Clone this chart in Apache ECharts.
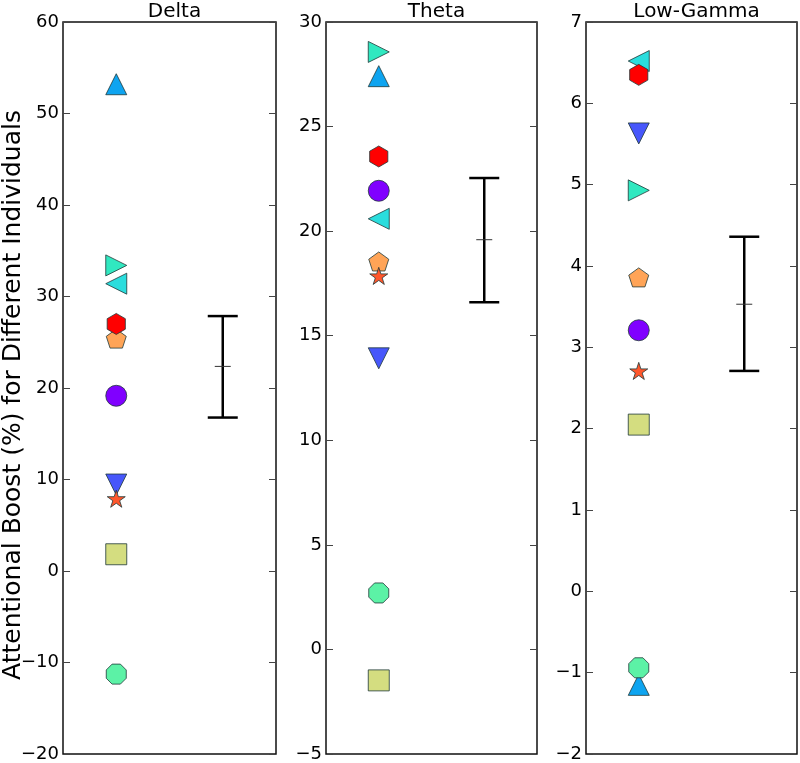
<!DOCTYPE html>
<html>
<head>
<meta charset="utf-8">
<script src="https://cdn.jsdelivr.net/npm/echarts@6/dist/echarts.min.js"></script>
<style>
  html, body { margin: 0; padding: 0; background: #fff; }
  #chart { width: 800px; height: 763px; }
</style>
</head>
<body>
<div id="chart"></div>
<script>
// ---- data ----
const panelTitles = ['Delta', 'Theta', 'Low-Gamma'];
const yLabel = 'Attentional Boost (%) for Different Individuals';
// subjects in drawing order: circle, down-tri, up-tri, left-tri, right-tri, octagon, square, pentagon, star, hexagon
const deltaValues = [19.15, 9.45, 53.2, 31.4, 33.4, -11.27, 1.83, 25.4, 7.9, 27.0];
const thetaValues = [21.93, 13.92, 27.41, 20.59, 28.57, 2.70, -1.48, 18.55, 17.86, 23.57];
const gammaValues = [3.21, 5.63, -1.15, 6.52, 4.93, -0.94, 2.05, 3.86, 2.71, 6.35];
const errMid = [22.36, 19.59, 3.53];
const errLow = [16.77, 16.6, 2.71];
const errHigh = [27.86, 22.54, 4.36];
const yMin = [-20, -5, -2];
const yMax = [60, 30, 7];
const yStep = [10, 5, 1];

// ---- styling ----
const colors = ['#8000ff', '#4757fb', '#0ea4f0', '#2adddd', '#30e8c0', '#5cf2a6', '#d4dd80', '#ffa457', '#ff572c', '#ff0000'];
const PENT = 'path://M0,-1 L-0.951,-0.309 L-0.588,0.809 L0.588,0.809 L0.951,-0.309 Z';
const HEX = 'path://M0,-1 L-0.866,-0.5 L-0.866,0.5 L0,1 L0.866,0.5 L0.866,-0.5 Z';
const OCT = 'path://M0.924,0.383 L0.383,0.924 L-0.383,0.924 L-0.924,0.383 L-0.924,-0.383 L-0.383,-0.924 L0.383,-0.924 L0.924,-0.383 Z';
const STAR = 'path://M0,-1 L0.2245,-0.309 L0.951,-0.309 L0.363,0.118 L0.588,0.809 L0,0.382 L-0.588,0.809 L-0.363,0.118 L-0.951,-0.309 L-0.2245,-0.309 Z';
const markers = [
  { symbol: 'circle', rotate: 0, size: 21 },
  { symbol: 'triangle', rotate: 180, size: 21 },
  { symbol: 'triangle', rotate: 0, size: 21 },
  { symbol: 'triangle', rotate: 90, size: 21 },
  { symbol: 'triangle', rotate: -90, size: 21 },
  { symbol: OCT, rotate: 0, size: 20 },
  { symbol: 'rect', rotate: 0, size: 21 },
  { symbol: PENT, rotate: 0, size: 20 },
  { symbol: STAR, rotate: 0, size: 18 },
  { symbol: HEX, rotate: 0, size: 21 }
];
const panelValues = [deltaValues, thetaValues, gammaValues];
const grids = [
  { left: 63, width: 213 },
  { left: 326, width: 211 },
  { left: 586, width: 211 }
];
const gridTop = 22, gridHeight = 736;
const FONT = 'DejaVu Sans';
const fmt = v => (v < 0 ? '\u2212' + Math.abs(v) : String(v));

const option = {
  animation: false,
  backgroundColor: '#fff',
  textStyle: { fontFamily: FONT },
  title: panelTitles.map((t, i) => ({
    text: t,
    left: grids[i].left + grids[i].width / 2,
    textAlign: 'center',
    top: -3,
    textStyle: { fontFamily: FONT, fontSize: 20, fontWeight: 'normal', color: '#000' }
  })),
  grid: grids.map(g => ({
    left: g.left, width: g.width, top: gridTop, height: gridHeight,
    show: true, borderColor: '#111', borderWidth: 1.5, backgroundColor: 'transparent'
  })),
  xAxis: grids.map((g, i) => ({
    type: 'value', gridIndex: i, min: 0, max: 4,
    show: false
  })),
  yAxis: [],
  series: [],
  graphic: [{
    type: 'text',
    x: 13, y: 395,
    rotation: Math.PI / 2,
    style: {
      text: yLabel, fill: '#000',
      font: '25px "DejaVu Sans"',
      align: 'center', verticalAlign: 'middle'
    }
  }]
};

for (let p = 0; p < 3; p++) {
  // left axis with labels
  option.yAxis.push({
    type: 'value', gridIndex: p, min: yMin[p], max: yMax[p], interval: yStep[p],
    position: 'left',
    axisLine: { show: false },
    axisTick: { show: true, inside: true, length: 7, lineStyle: { color: '#444', width: 1 } },
    axisLabel: { show: true, margin: 4, fontSize: 18, color: '#000', fontFamily: FONT, formatter: fmt },
    splitLine: { show: false }
  });
  // right mirrored ticks
  option.yAxis.push({
    type: 'value', gridIndex: p, min: yMin[p], max: yMax[p], interval: yStep[p],
    position: 'right',
    axisLine: { show: false },
    axisTick: { show: true, inside: true, length: 7, lineStyle: { color: '#444', width: 1 } },
    axisLabel: { show: false },
    splitLine: { show: false }
  });

  const vals = panelValues[p];
  option.series.push({
    type: 'scatter',
    xAxisIndex: p, yAxisIndex: p * 2,
    symbolKeepAspect: true,
    data: vals.map((v, i) => ({
      value: [1, v],
      symbol: markers[i].symbol,
      symbolSize: markers[i].size,
      symbolRotate: markers[i].rotate,
      itemStyle: { color: colors[i], borderColor: '#203838', borderWidth: 0.8, opacity: 1 }
    })),
    z: 3
  });

  option.series.push({
    type: 'custom',
    xAxisIndex: p, yAxisIndex: p * 2,
    data: [[3, errLow[p], errMid[p], errHigh[p]]],
    renderItem: function (params, api) {
      const x = api.value(0);
      const lo = api.coord([x, api.value(1)]);
      const mid = api.coord([x, api.value(2)]);
      const hi = api.coord([x, api.value(3)]);
      const cap = 15, tick = 8;
      return {
        type: 'group',
        children: [
          { type: 'line', shape: { x1: lo[0], y1: lo[1], x2: hi[0], y2: hi[1] }, style: { stroke: '#000', lineWidth: 2.5 } },
          { type: 'line', shape: { x1: lo[0] - cap, y1: lo[1], x2: lo[0] + cap, y2: lo[1] }, style: { stroke: '#000', lineWidth: 2.5 } },
          { type: 'line', shape: { x1: hi[0] - cap, y1: hi[1], x2: hi[0] + cap, y2: hi[1] }, style: { stroke: '#000', lineWidth: 2.5 } },
          { type: 'line', shape: { x1: mid[0] - tick, y1: mid[1], x2: mid[0] + tick, y2: mid[1] }, style: { stroke: '#333', lineWidth: 1 } }
        ]
      };
    },
    z: 2
  });
}

const chart = echarts.init(document.getElementById('chart'), null, { renderer: 'canvas' });
chart.setOption(option);
</script>
</body>
</html>
